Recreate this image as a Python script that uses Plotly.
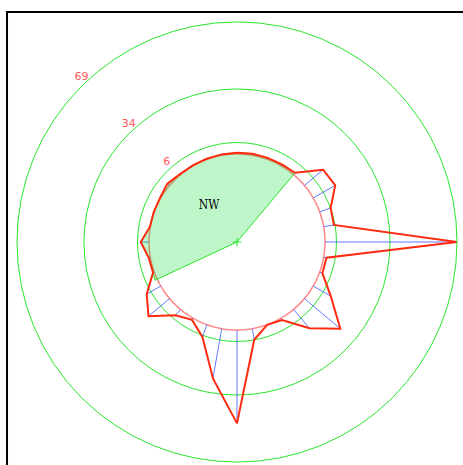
import plotly.graph_objects as go

# ---- data ----
directions = list(range(0, 360, 10))
speeds = [0.7, 0.8, 0.8, 0.9, 1.2, 12.8, 13.3, 6.1, 5.4, 69.0,
          1.5, 1.5, 10.6, 24.5, 12.9, 1.1, 0.1, 5.9, 48.8, 26.4,
          6.8, 1.0, 4.0, 14.4, 8.5, 0.7, 0.9, 4.3, 0.2, 0.3,
          0.4, 1.5, 0.3, 0.2, 0.3, 0.5]
radial_ticks = [6, 34, 69]
radial_min = -46          # centre of the rose (calm ring sits at 0)
sector_start, sector_start_value = 245, 1.3
sector_end = 40
sector_label = "NW"
sector_label_theta, sector_label_r = 322.5, -22

RED = "#ff2a10"
GREEN = "rgb(40,230,40)"

fig = go.Figure()

# calm ring at r = 0
ring_theta = list(range(0, 361, 2))
fig.add_trace(go.Scatterpolar(r=[0] * len(ring_theta), theta=ring_theta, mode="lines",
                              line=dict(color="rgba(255,70,70,0.65)", width=1.5),
                              hoverinfo="skip", showlegend=False))

# blue spokes
sr, st = [], []
for d, v in zip(directions, speeds):
    sr += [0, v, None]
    st += [d, d, None]
fig.add_trace(go.Scatterpolar(r=sr, theta=st, mode="lines",
                              line=dict(color="rgba(70,100,255,0.85)", width=1),
                              hoverinfo="skip", showlegend=False, cliponaxis=False))

# highlighted sector
sec = [(d, v) for d, v in zip(directions, speeds) if d > sector_start] + \
      [(d, v) for d, v in zip(directions, speeds) if d <= sector_end]
g_theta = [sector_start, sector_start] + [d for d, _ in sec] + [sector_end]
g_r = [radial_min, sector_start_value] + [v for _, v in sec] + [radial_min]
fig.add_trace(go.Scatterpolar(r=g_r, theta=g_theta, mode="lines", fill="toself",
                              fillcolor="rgba(0,220,40,0.25)",
                              line=dict(color=GREEN, width=1),
                              hoverinfo="skip", showlegend=False))

# red outline
fig.add_trace(go.Scatterpolar(r=speeds + [speeds[0]], theta=directions + [360], mode="lines",
                              line=dict(color=RED, width=2),
                              hoverinfo="skip", showlegend=False, cliponaxis=False))

# centre marker
fig.add_trace(go.Scatterpolar(r=[radial_min], theta=[0], mode="markers",
                              marker=dict(symbol="cross-thin", size=6,
                                          line=dict(color=GREEN, width=1)),
                              hoverinfo="skip", showlegend=False))

# radial labels
fig.add_trace(go.Scatterpolar(r=radial_ticks, theta=[315] * len(radial_ticks), mode="text+markers",
                              text=[str(t) for t in radial_ticks], textposition="top center",
                              marker=dict(size=5, color="rgba(0,0,0,0)"),
                              textfont=dict(family="DejaVu Sans", size=11, color="#ff5a5a"),
                              hoverinfo="skip", showlegend=False, cliponaxis=False))

# sector label
fig.add_trace(go.Scatterpolar(r=[sector_label_r], theta=[sector_label_theta], mode="text",
                              text=[sector_label], textposition="middle center",
                              textfont=dict(family="DejaVu Serif Condensed, DejaVu Serif, serif",
                                            size=12, color="black"),
                              hoverinfo="skip", showlegend=False))

fig.update_layout(
    width=463, height=465,
    margin=dict(l=17, r=6, t=22, b=3),
    paper_bgcolor="white", plot_bgcolor="white",
    showlegend=False,
    polar=dict(
        bgcolor="white",
        domain=dict(x=[0, 1], y=[0, 1]),
        radialaxis=dict(range=[radial_min, max(radial_ticks)], tickvals=radial_ticks,
                        showticklabels=False, ticks="", showline=False,
                        showgrid=True, gridcolor=GREEN, gridwidth=1),
        angularaxis=dict(rotation=90, direction="clockwise", showgrid=False,
                         showticklabels=False, ticks="", showline=True,
                         linecolor=GREEN, linewidth=1),
    ),
    shapes=[dict(type="rect", xref="paper", yref="paper",
                 x0=-0.0227, x1=1.3, y0=-0.3, y1=1.0227,
                 line=dict(color="black", width=2), fillcolor="rgba(0,0,0,0)",
                 layer="above")],
)

fig.write_html("out.html", config={"displayModeBar": False},
               post_script="document.body.style.margin='0';document.body.style.overflow='hidden';")
